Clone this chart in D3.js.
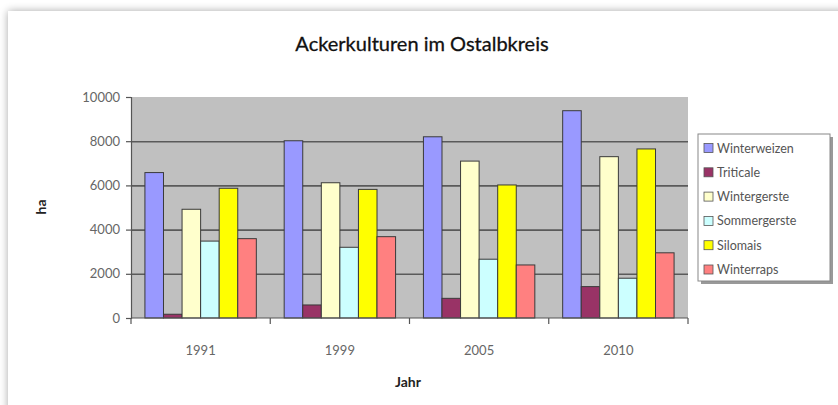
<!DOCTYPE html>
<html>
<head>
<meta charset="utf-8">
<script src="https://cdn.jsdelivr.net/npm/d3@7"></script>
<style>
  body { margin: 0; background: #fff; }
  svg { display: block; }
  text { font-family: "Lato", "Open Sans", sans-serif; }
</style>
</head>
<body>
<svg id="chart" width="838" height="405"></svg>
<script>
const years = ['1991', '1999', '2005', '2010'];
const crops = ['Winterweizen', 'Triticale', 'Wintergerste', 'Sommergerste', 'Silomais', 'Winterraps'];
const colors = ['#9999ff', '#993366', '#ffffcc', '#ccffff', '#ffff00', '#ff8080'];
// one array per crop, values by year (ha)
const winterweizen = [6580, 8020, 8200, 9380];
const triticale    = [170, 590, 890, 1420];
const wintergerste = [4920, 6120, 7100, 7300];
const sommergerste = [3480, 3200, 2660, 1800];
const silomais     = [5870, 5820, 6020, 7650];
const winterraps   = [3590, 3680, 2400, 2950];
const yTicks = [0, 2000, 4000, 6000, 8000, 10000];

const series = [winterweizen, triticale, wintergerste, sommergerste, silomais, winterraps];
const data = years.map((y, i) => ({
  year: y,
  values: crops.map((c, j) => ({ crop: c, value: series[j][i] }))
}));

const svg = d3.select('#chart');

// card with soft shadow
const defs = svg.append('defs');
const f = defs.append('filter').attr('id', 'shadow')
  .attr('x', '-5%').attr('y', '-5%').attr('width', '110%').attr('height', '110%');
f.append('feGaussianBlur').attr('in', 'SourceAlpha').attr('stdDeviation', 4);
f.append('feOffset').attr('dx', 0).attr('dy', 0).attr('result', 'b');
f.append('feComponentTransfer').append('feFuncA').attr('type', 'linear').attr('slope', 0.35);
const m = f.append('feMerge');
m.append('feMergeNode');
m.append('feMergeNode').attr('in', 'SourceGraphic');

svg.append('rect')
  .attr('x', 8).attr('y', 11).attr('width', 850).attr('height', 420)
  .attr('fill', '#fff').attr('filter', 'url(#shadow)');

const margin = { left: 131, top: 97, right: 150, bottom: 87 };
const width = 688 - margin.left;
const height = 318 - margin.top;

const g = svg.append('g').attr('transform', `translate(${margin.left}, ${margin.top})`);

const x0 = d3.scaleBand().domain(years).range([0, width]).paddingInner(0.2).paddingOuter(0.1);
const x1 = d3.scaleBand().domain(crops).range([0, x0.bandwidth()]);
const y = d3.scaleLinear().domain([0, 10000]).range([height, 0]);
const color = d3.scaleOrdinal().domain(crops).range(colors);

// plot background
g.append('rect').attr('width', width).attr('height', height).attr('fill', '#c0c0c0');

// grid lines
g.append('g')
  .attr('class', 'grid')
  .call(d3.axisLeft(y).tickValues(yTicks.slice(1, -1)).tickSize(-width).tickFormat(''))
  .call(a => a.select('.domain').remove())
  .call(a => a.selectAll('line').attr('stroke', '#5a5a5a').attr('stroke-width', 1.6));

// bars
const groups = g.selectAll('.year')
  .data(data)
  .enter()
  .append('g')
  .attr('transform', d => `translate(${x0(d.year)}, 0)`);

groups.selectAll('rect')
  .data(d => d.values)
  .enter()
  .append('rect')
  .attr('x', d => x1(d.crop))
  .attr('y', d => y(d.value))
  .attr('width', x1.bandwidth())
  .attr('height', d => height - y(d.value))
  .attr('fill', d => color(d.crop))
  .attr('stroke', '#3a3a3a')
  .attr('stroke-width', 1);

// y axis
g.append('g')
  .call(d3.axisLeft(y).tickValues(yTicks).tickFormat(d3.format('d')).tickSize(5).tickPadding(6))
  .call(a => a.select('.domain').attr('stroke', '#555').attr('stroke-width', 1.2))
  .call(a => a.selectAll('line').attr('stroke', '#555').attr('stroke-width', 1.2))
  .call(a => a.selectAll('text').attr('fill', '#666').attr('font-size', 13)
    .style('font-family', '"Lato", sans-serif'));

// x axis: ticks between categories
const xAxis = g.append('g').attr('transform', `translate(0, ${height})`);
xAxis.append('line').attr('x1', 0).attr('x2', width).attr('stroke', '#555').attr('stroke-width', 1.2);
xAxis.selectAll('.tk')
  .data(d3.range(years.length + 1))
  .enter()
  .append('line')
  .attr('x1', i => i * x0.step())
  .attr('x2', i => i * x0.step())
  .attr('y1', 0).attr('y2', 6)
  .attr('stroke', '#555').attr('stroke-width', 1.2);
xAxis.selectAll('.lbl')
  .data(years)
  .enter()
  .append('text')
  .attr('x', d => x0(d) + x0.bandwidth() / 2)
  .attr('y', 37)
  .attr('text-anchor', 'middle')
  .attr('fill', '#666')
  .attr('font-size', 13)
  .text(d => d);

// titles
svg.append('text')
  .attr('x', 422).attr('y', 51)
  .attr('text-anchor', 'middle')
  .attr('font-size', 20)
  .attr('fill', '#111')
  .attr('stroke', '#111').attr('stroke-width', 0.3)
  .text('Ackerkulturen im Ostalbkreis');

svg.append('text')
  .attr('x', 408).attr('y', 387)
  .attr('text-anchor', 'middle')
  .attr('font-size', 14).attr('font-weight', 'bold')
  .attr('fill', '#222')
  .text('Jahr');

svg.append('text')
  .attr('transform', 'translate(46, 207) rotate(-90)')
  .attr('text-anchor', 'middle')
  .attr('font-size', 14).attr('font-weight', 'bold')
  .attr('fill', '#222')
  .text('ha');

// legend
const legend = svg.append('g').attr('transform', 'translate(698, 134)');
legend.append('rect').attr('x', 3).attr('y', 3).attr('width', 132).attr('height', 147).attr('fill', '#999');
legend.append('rect').attr('width', 132).attr('height', 147)
  .attr('fill', '#fff').attr('stroke', '#888').attr('stroke-width', 1);

const items = legend.selectAll('.item')
  .data(crops)
  .enter()
  .append('g')
  .attr('transform', (d, i) => `translate(6, ${14 + i * 24.3})`);

items.append('rect')
  .attr('x', 0).attr('y', -4.5).attr('width', 9).attr('height', 9)
  .attr('fill', d => color(d)).attr('stroke', '#555').attr('stroke-width', 0.8);

items.append('text')
  .attr('x', 13).attr('y', 4.5)
  .attr('font-size', 12.5)
  .attr('fill', '#555')
  .text(d => d);
</script>
</body>
</html>
